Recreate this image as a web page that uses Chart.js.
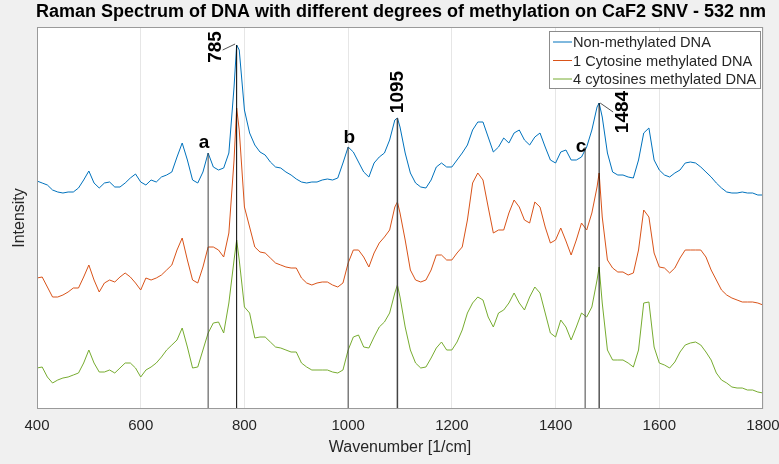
<!DOCTYPE html>
<html>
<head>
<meta charset="utf-8">
<script src="https://cdn.jsdelivr.net/npm/chart.js@4.4.0/dist/chart.umd.min.js"></script>
<style>
  html, body { margin:0; padding:0; background:#f0f0f0; }
  #wrap { width:779px; height:464px; }
</style>
</head>
<body>
<div id="wrap"><canvas id="ramanChart" width="779" height="464"></canvas></div>
<script>
// wavenumbers (1/cm)
const wavenumber = [
  400,410,420,430,440,450,460,470,480,490,
  500,510,520,530,540,550,560,570,580,590,
  600,610,620,630,640,650,660,670,680,690,
  700,710,720,730,740,750,760,770,780,785,
  790,800,810,820,830,840,850,860,870,880,890,
  900,910,920,930,940,950,960,970,980,990,
  1000,1010,1020,1030,1040,1050,1060,1070,1080,1090,1095,
  1100,1110,1120,1130,1140,1150,1160,1170,1180,1190,
  1200,1210,1220,1230,1240,1250,1260,1270,1280,1290,
  1300,1310,1320,1330,1340,1350,1360,1370,1380,1390,
  1400,1410,1420,1430,1440,1450,1460,1470,1480,1484,
  1490,1500,1510,1520,1530,1540,1550,1560,1570,1580,1590,
  1600,1610,1620,1630,1640,1650,1660,1670,1680,1690,
  1700,1710,1720,1730,1740,1750,1760,1770,1780,1790,1800
];

// intensities (arbitrary units, offset stacked as in the figure)
const nonMethylated = [
  228,226,224,219,217,216,217,217,221,229,
  238,226,221,226,227,222,222,226,231,235,
  227,224,229,227,232,234,237,252,266,249,
  229,226,237,256,242,239,241,256,322,364,
  359,299,276,264,257,254,247,242,241,237,234,
  230,227,226,227,227,229,230,229,231,246,
  262,257,247,237,232,246,252,256,269,289,291,
  282,256,236,226,222,221,229,242,246,242,
  242,249,256,264,279,287,287,272,257,262,
  271,266,276,279,269,264,272,276,262,249,
  246,257,259,249,249,252,262,279,302,306,
  292,256,237,234,234,232,231,249,276,281,249,
  239,234,232,236,239,246,247,246,242,237,
  232,226,221,217,216,216,217,216,216,214,214
];
const oneCytosine = [
  131,132,122,112,112,114,117,121,121,132,
  144,129,117,126,129,127,132,136,132,126,
  119,131,129,131,134,139,144,159,171,149,
  129,126,142,162,162,159,152,176,249,301,
  279,202,182,162,157,156,151,146,144,142,141,
  141,131,126,124,126,127,127,124,122,126,
  146,159,159,152,142,156,166,172,179,202,207,
  196,169,139,129,127,129,139,154,154,149,
  149,156,162,189,226,236,229,202,176,179,
  179,196,209,202,189,186,207,202,182,166,
  169,181,168,154,169,186,179,196,222,236,
  192,149,141,137,137,134,136,159,199,192,156,
  142,141,136,141,151,159,159,159,159,152,
  139,129,119,114,111,109,107,107,107,106,104
];
const fourCytosines = [
  41,42,32,26,29,31,32,34,36,46,
  59,46,37,37,39,36,41,46,46,41,
  32,39,42,46,52,59,64,69,81,62,
  41,42,59,76,86,87,76,106,149,169,
  149,102,96,71,72,72,67,62,61,59,57,
  57,46,42,39,39,39,39,37,36,39,
  59,72,74,62,61,72,82,87,96,116,124,
  112,82,59,46,41,42,51,61,67,59,
  59,67,79,96,106,112,109,92,82,96,
  99,106,116,106,99,112,122,116,96,76,
  72,89,82,69,82,96,92,102,129,142,
  106,59,49,49,49,46,42,59,106,107,62,
  46,44,41,47,57,64,66,67,64,57,
  49,36,29,26,22,21,21,19,19,17,16
];

const seriesNames = ['Non-methylated DNA', '1 Cytosine methylated DNA', '4 cytosines methylated DNA'];
const xTicks = [400, 600, 800, 1000, 1200, 1400, 1600, 1800];
const titleText = 'Raman Spectrum of DNA with different degrees of methylation on CaF2 SNV - 532 nm';

// marked bands
const markPos = [730, 785, 1000, 1095, 1457, 1484];
const markText = ['a', '785', 'b', '1095', 'c', '1484'];

const colors = ['#0072BD', '#D95319', '#77AC30'];
const FONT = '"Liberation Sans", Arial, Helvetica, sans-serif';

function toPts(ys){ return wavenumber.map((w,i)=>({x:w, y:ys[i]})); }
function blueAt(p){
  let best = 0;
  for(let i=0;i<wavenumber.length;i++){ if(Math.abs(wavenumber[i]-p) < Math.abs(wavenumber[best]-p)) best = i; }
  return nonMethylated[best];
}

const spectra = [nonMethylated, oneCytosine, fourCytosines].map((ys,i)=>({
  label: seriesNames[i], data: toPts(ys), borderColor: colors[i], borderWidth: 1,
  pointRadius: 0, tension: 0, fill: false, order: 2
}));
const markLines = markPos.map(p=>({
  label: '_mark', data: [{x:p,y:0},{x:p,y:blueAt(p)}],
  borderColor: (p===785||p===1484) ? '#000' : '#444', borderWidth: p===1095 ? 1.5 : 1,
  pointRadius: 0, fill: false, order: 1
}));

// label placement (data coords); rotated ones are centre points
const markLabelPos = [
  {x:722, y:261, rot:false},
  {x:743, y:362, rot:true},
  {x:1002, y:266, rot:false},
  {x:1094, y:317, rot:true},
  {x:1449, y:257, rot:false},
  {x:1528, y:297, rot:true}
];
const leaders = [[758,359,782,365],[1486,306,1511,297]];

const decor = {
  id: 'decor',
  beforeDraw(chart){
    const {ctx, chartArea:a} = chart;
    ctx.save();
    ctx.fillStyle = '#f0f0f0'; ctx.fillRect(0,0,chart.width,chart.height);
    ctx.fillStyle = '#fff'; ctx.fillRect(a.left, a.top, a.right-a.left, a.bottom-a.top);
    // title
    ctx.fillStyle = '#000'; ctx.font = 'bold 18px ' + FONT;
    ctx.textAlign = 'center'; ctx.textBaseline = 'middle';
    ctx.fillText(titleText, 401, 12);
    ctx.restore();
  },
  afterDatasetsDraw(chart){
    const {ctx, chartArea:a, scales:{x, y}} = chart;
    ctx.save();
    // axes box
    ctx.strokeStyle = '#9a9a9a'; ctx.lineWidth = 1;
    ctx.strokeRect(a.left+0.5, a.top+0.5, a.right-a.left-1, a.bottom-a.top-1);
    // leader lines
    ctx.strokeStyle = '#555';
    leaders.forEach(l=>{
      ctx.beginPath(); ctx.moveTo(x.getPixelForValue(l[0]), y.getPixelForValue(l[1]));
      ctx.lineTo(x.getPixelForValue(l[2]), y.getPixelForValue(l[3])); ctx.stroke();
    });
    // mark labels
    ctx.fillStyle = '#000';
    ctx.font = 'bold 19px ' + FONT;
    ctx.textAlign = 'center';
    markText.forEach((t,i)=>{
      const p = markLabelPos[i];
      const px = x.getPixelForValue(p.x), py = y.getPixelForValue(p.y);
      if(p.rot){
        ctx.save(); ctx.translate(px, py); ctx.rotate(-Math.PI/2);
        ctx.textBaseline = 'middle'; ctx.fillText(t, 0, 1); ctx.restore();
      } else {
        ctx.textBaseline = 'alphabetic'; ctx.fillText(t, px, py);
      }
    });
    // legend box (top right, inside axes)
    const bx = a.right - 214, by = a.top + 4, bw = 211, bh = 57;
    ctx.fillStyle = '#fff'; ctx.fillRect(bx, by, bw, bh);
    ctx.strokeStyle = '#8c8c8c'; ctx.strokeRect(bx+0.5, by+0.5, bw, bh);
    ctx.font = '14.6px ' + FONT; ctx.textAlign = 'left'; ctx.textBaseline = 'middle';
    chart.data.datasets.slice(0,3).forEach((ds,i)=>{
      const ry = by + 11 + i*18.5;
      ctx.strokeStyle = ds.borderColor; ctx.lineWidth = 1;
      ctx.beginPath(); ctx.moveTo(bx+4, ry); ctx.lineTo(bx+23, ry); ctx.stroke();
      ctx.fillStyle = '#262626'; ctx.fillText(ds.label, bx+24, ry+1);
    });
    ctx.restore();
  }
};

new Chart(document.getElementById('ramanChart').getContext('2d'), {
  type: 'line',
  data: { datasets: [...spectra, ...markLines] },
  options: {
    responsive: false, animation: false, devicePixelRatio: 1,
    layout: { padding: { left:0, right:16, top:27, bottom:0 } },
    plugins: {
      legend: { display: false },
      tooltip: { enabled: false },
      title: { display: false }
    },
    scales: {
      x: {
        type: 'linear', min: 400, max: 1800,
        afterBuildTicks: s => { s.ticks = xTicks.map(v=>({value:v})); },
        afterFit: s => { s.height = 55; s.paddingLeft = 0; s.paddingRight = 0; },
        ticks: { color: '#262626', font: { family: FONT, size: 15 }, padding: 8, maxRotation: 0,
          callback: v => String(v) },
        grid: { color: '#e6e6e6', drawTicks: false },
        border: { display: false },
        title: { display: true, text: 'Wavenumber [1/cm]', color: '#262626', font: { family: FONT, size: 16 }, padding: { top: 0, bottom: 7 } }
      },
      y: {
        min: 0, max: 382,
        afterFit: s => { s.width = 37; s.paddingTop = 0; s.paddingBottom = 0; },
        ticks: { display: false },
        grid: { display: false, drawTicks: false },
        border: { display: false },
        title: { display: true, text: 'Intensity', color: '#262626', font: { family: FONT, size: 16 }, padding: { top: 10, bottom: 0 } }
      }
    }
  },
  plugins: [decor]
});
</script>
</body>
</html>
